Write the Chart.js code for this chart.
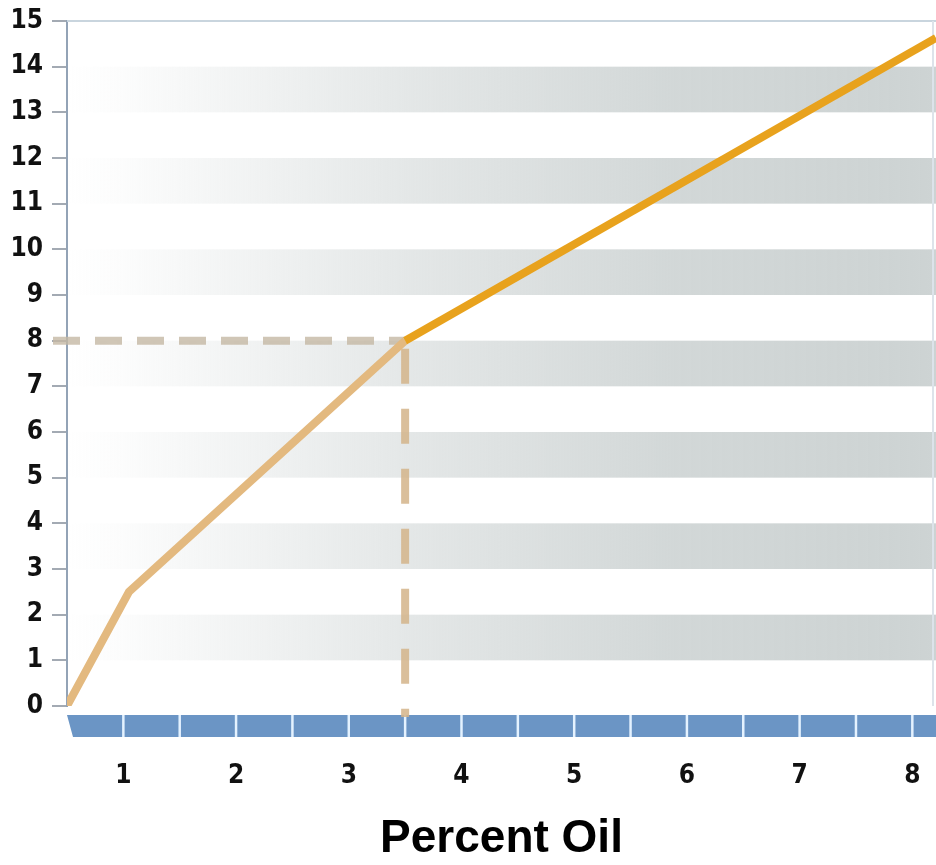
<!DOCTYPE html>
<html>
<head>
<meta charset="utf-8">
<script src="https://cdn.jsdelivr.net/npm/chart.js@4/dist/chart.umd.min.js"></script>
<style>
  html, body { margin: 0; padding: 0; background: #fff; overflow: hidden; }
  #wrap { position: relative; width: 936px; height: 865px; }
</style>
</head>
<body>
<div id="wrap"><canvas id="chart" width="936" height="865"></canvas></div>
<script>
// values
const xTicks = [1, 2, 3, 4, 5, 6, 7, 8]
const yTicks = [0, 1, 2, 3, 4, 5, 6, 7, 8, 9, 10, 11, 12, 13, 14, 15]
const lowerX = [0.5, 1.05, 3.5]
const lowerY = [0, 2.5, 8]
const upperX = [3.5, 8.21]
const upperY = [8, 14.63]
const bandStarts = [1, 3, 5, 7, 9, 11, 13]
const guideX = 3.5
const guideY = 8
const xMin = 0.5
const xMax = 8.21

const TAN    = '#e3b97f'
const ORANGE = '#e8a21d'
const LABEL  = '#111111'
const TICK_FONT = { family: "'DejaVu Sans Condensed', 'Liberation Sans', sans-serif", size: 26, weight: 'bold' }

const toPoints = (xs, ys) => xs.map((x, i) => ({ x, y: ys[i] }))

// background bands, guide dashes and the blue ruler under the plot
const decor = {
  id: 'decor',
  beforeDatasetsDraw(chart) {
    const { ctx, chartArea: a, scales: { x, y } } = chart
    ctx.save()

    const grad = ctx.createLinearGradient(a.left, 0, a.right, 0)
    grad.addColorStop(0, 'rgba(205,211,211,0)')
    grad.addColorStop(0.06, 'rgba(205,211,211,0.06)')
    grad.addColorStop(0.4, 'rgba(205,211,211,0.55)')
    grad.addColorStop(0.7, 'rgba(205,211,211,0.9)')
    grad.addColorStop(1, 'rgba(205,211,211,1)')
    ctx.fillStyle = grad
    bandStarts.forEach(v => {
      const top = y.getPixelForValue(v + 1)
      const bot = y.getPixelForValue(v)
      ctx.fillRect(a.left, top, a.right - a.left, bot - top)
    })

    // top and right frame
    ctx.strokeStyle = '#c9d5de'
    ctx.lineWidth = 2
    ctx.beginPath()
    ctx.moveTo(a.left, a.top)
    ctx.lineTo(a.right, a.top)
    ctx.stroke()
    ctx.strokeStyle = '#dde3ea'
    ctx.beginPath()
    ctx.moveTo(a.right - 3, a.top)
    ctx.lineTo(a.right - 3, a.bottom)
    ctx.stroke()

    // blue ruler
    const barTop = a.bottom + 9
    const barBot = a.bottom + 31
    ctx.fillStyle = '#6b95c5'
    ctx.beginPath()
    ctx.moveTo(a.left, barTop)
    ctx.lineTo(a.right, barTop)
    ctx.lineTo(a.right, barBot)
    ctx.lineTo(a.left + 6, barBot)
    ctx.closePath()
    ctx.fill()
    ctx.strokeStyle = '#e4f2ff'
    ctx.lineWidth = 2.5
    xTicks.forEach(v => {
      ;[v, v + 0.5].forEach(d => {
        const px = x.getPixelForValue(d)
        if (px >= a.right - 2) return
        ctx.beginPath()
        ctx.moveTo(px, barTop)
        ctx.lineTo(px, barBot)
        ctx.stroke()
      })
    })

    // dashed guides to (3.5, 8)
    const gx = x.getPixelForValue(guideX)
    const gy = y.getPixelForValue(guideY)
    ctx.lineWidth = 8
    ctx.strokeStyle = 'rgba(196,184,164,0.8)'
    ctx.setLineDash([27, 15])
    ctx.beginPath()
    ctx.moveTo(a.left - 14, gy)
    ctx.lineTo(gx, gy)
    ctx.stroke()
    ctx.strokeStyle = 'rgba(212,180,138,0.85)'
    ctx.setLineDash([35, 25])
    ctx.beginPath()
    ctx.moveTo(gx, gy + 8)
    ctx.lineTo(gx, barTop + 2)
    ctx.stroke()

    ctx.restore()
  },
}

new Chart(document.getElementById('chart'), {
  type: 'line',
  data: {
    datasets: [
      { data: toPoints(upperX, upperY), borderColor: ORANGE, borderWidth: 8, pointRadius: 0, order: 1 },
      { data: toPoints(lowerX, lowerY), borderColor: TAN, borderWidth: 8, pointRadius: 0, order: 2 },
    ],
  },
  options: {
    responsive: false,
    animation: false,
    events: [],
    layout: { padding: { top: 21, right: 0, left: 0, bottom: 0 } },
    plugins: { legend: { display: false }, tooltip: { enabled: false } },
    scales: {
      x: {
        type: 'linear',
        min: xMin,
        max: xMax,
        afterBuildTicks: s => { s.ticks = xTicks.map(value => ({ value })) },
        afterFit: s => { s.height = 159; s.paddingLeft = 0; s.paddingRight = 0 },
        grid: { display: false, drawTicks: false },
        border: { display: false },
        ticks: { color: LABEL, font: TICK_FONT, padding: 55, maxRotation: 0 },
        title: {
          display: true,
          text: 'Percent Oil',
          color: '#000',
          font: { family: "'Liberation Sans', Arial, sans-serif", size: 46, weight: 'bold', lineHeight: 1.1 },
          padding: { top: 0, bottom: 0 },
        },
      },
      y: {
        min: 0,
        max: 15,
        afterBuildTicks: s => { s.ticks = yTicks.map(value => ({ value })) },
        afterFit: s => { s.width = 67; s.paddingTop = 0; s.paddingBottom = 0 },
        grid: { drawOnChartArea: false, drawTicks: true, tickLength: 15, color: '#a3aab3', lineWidth: 2 },
        border: { color: '#93a3b6', width: 2 },
        ticks: { color: LABEL, font: TICK_FONT, padding: 9 },
      },
    },
  },
  plugins: [decor],
})
</script>
</body>
</html>
